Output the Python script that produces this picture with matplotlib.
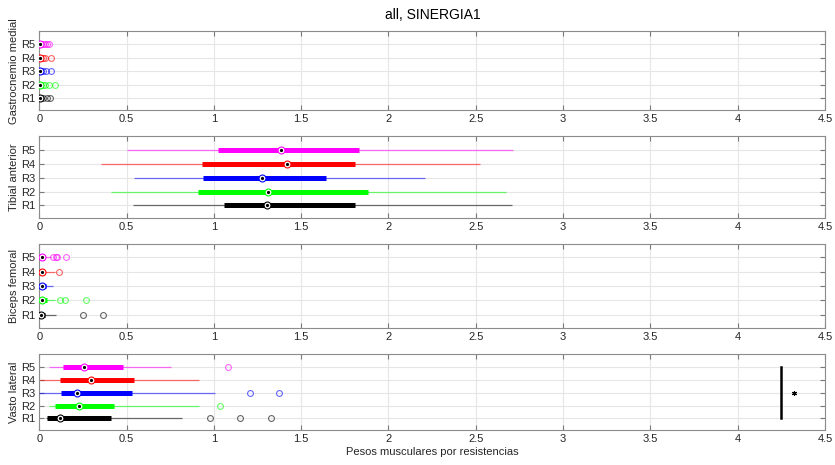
import numpy as np
import matplotlib
matplotlib.use('Agg')
from matplotlib import pyplot as plt

plt.rcParams['font.family'] = ['Liberation Sans', 'DejaVu Sans']

# categorias y colores
rows = ['R1', 'R2', 'R3', 'R4', 'R5']
colores = ['#000000', '#00ff00', '#0000ff', '#ff0000', '#ff00ff']
musculos = ['Gastrocnemio medial', 'Tibial anterior', 'Biceps femoral', 'Vasto lateral']

# estadisticos por musculo (orden R1..R5)
# Gastrocnemio medial
gm_wlo = [0.0, 0.0, 0.0, 0.0, 0.0]
gm_q1 = [0.002, 0.002, 0.002, 0.002, 0.002]
gm_med = [0.004, 0.004, 0.004, 0.004, 0.005]
gm_q3 = [0.008, 0.007, 0.007, 0.007, 0.007]
gm_whi = [0.012, 0.012, 0.012, 0.012, 0.012]
gm_out = [[0.023, 0.042, 0.06], [0.019, 0.033, 0.057, 0.09],
          [0.023, 0.037, 0.065], [0.019, 0.033, 0.067],
          [0.019, 0.033, 0.042, 0.057]]

# Tibial anterior
ta_wlo = [0.537, 0.41, 0.543, 0.353, 0.5]
ta_q1 = [1.056, 0.909, 0.938, 0.932, 1.023]
ta_med = [1.306, 1.311, 1.275, 1.42, 1.386]
ta_q3 = [1.809, 1.881, 1.643, 1.811, 1.834]
ta_whi = [2.707, 2.676, 2.211, 2.525, 2.714]
ta_out = [[], [], [], [], []]

# Biceps femoral
bf_wlo = [0.0, 0.0, 0.0, 0.0, 0.0]
bf_q1 = [0.004, 0.006, 0.008, 0.008, 0.006]
bf_med = [0.008, 0.017, 0.014, 0.017, 0.014]
bf_q3 = [0.033, 0.042, 0.04, 0.02, 0.018]
bf_whi = [0.095, 0.09, 0.08, 0.09, 0.07]
bf_out = [[0.248, 0.366], [0.118, 0.147, 0.267], [], [0.114],
          [0.077, 0.095, 0.1, 0.153]]

# Vasto lateral
vl_wlo = [0.038, 0.057, 0.0, 0.004, 0.057]
vl_q1 = [0.042, 0.09, 0.124, 0.118, 0.134]
vl_med = [0.118, 0.229, 0.217, 0.296, 0.257]
vl_q3 = [0.412, 0.429, 0.534, 0.541, 0.48]
vl_whi = [0.82, 0.915, 1.004, 0.915, 0.757]
vl_out = [[0.976, 1.151, 1.329], [1.033], [1.205, 1.372], [], [1.083]]

datos = [
    (gm_wlo, gm_q1, gm_med, gm_q3, gm_whi, gm_out),
    (ta_wlo, ta_q1, ta_med, ta_q3, ta_whi, ta_out),
    (bf_wlo, bf_q1, bf_med, bf_q3, bf_whi, bf_out),
    (vl_wlo, vl_q1, vl_med, vl_q3, vl_whi, vl_out),
]

# significancia (vasto lateral)
sig_x = 4.25
sig_star_x = 4.32

xticks = [0, 0.5, 1, 1.5, 2, 2.5, 3, 3.5, 4, 4.5]
xticklabels = ['0', '0.5', '1', '1.5', '2', '2.5', '3', '3.5', '4', '4.5']

# posiciones de ejes [left, bottom, width, height] en fraccion de figura
posiciones = [
    [0.047, 0.763, 0.941, 0.170],
    [0.047, 0.531, 0.941, 0.176],
    [0.047, 0.295, 0.941, 0.181],
    [0.047, 0.075, 0.941, 0.163],
]

fig = plt.figure(figsize=(8.35, 4.65), dpi=100)
gris_txt = '#262626'
ejes = []
for k, (wlo, q1, med, q3, whi, out) in enumerate(datos):
    ax = fig.add_axes(posiciones[k])
    ejes.append(ax)
    for i in range(5):
        y = i + 1
        c = colores[i]
        # bigotes
        ax.plot([wlo[i], whi[i]], [y, y], color=c, lw=0.9, alpha=0.55,
                solid_capstyle='butt', zorder=3)
        # caja
        ax.plot([q1[i], q3[i]], [y, y], color=c, lw=3.6,
                solid_capstyle='butt', zorder=4)
        # outliers
        if len(out[i]) > 0:
            ax.plot(out[i], [y] * len(out[i]), 'o', mfc='none', mec=c,
                    mew=0.8, ms=4.2, alpha=0.6, zorder=5)
        # mediana
        ax.plot(med[i], y, 'o', mfc='white', mec=c, mew=0.8, ms=5,
                alpha=1, zorder=6)
        ax.plot(med[i], y, 'o', color='black', ms=1.3, zorder=7)

    ax.set_xlim(0, 4.5)
    ax.set_ylim(0.1, 5.95)
    ax.set_yticks([1, 2, 3, 4, 5])
    ax.set_yticklabels(rows)
    ax.set_xticks(xticks)
    ax.set_xticklabels(xticklabels)
    ax.set_ylabel(musculos[k], fontsize=8, color=gris_txt, labelpad=1)
    ax.grid(True, color='#e6e6e6', lw=0.8)
    ax.set_axisbelow(True)
    ax.tick_params(direction='in', top=True, right=True, length=3.5,
                   width=0.8, colors='#7a7a7a', labelcolor=gris_txt,
                   labelsize=8, pad=3)
    for s in ax.spines.values():
        s.set_color('#8c8c8c')
        s.set_linewidth(0.8)

# linea y asterisco de significancia en vasto lateral
ax4 = ejes[3]
ax4.plot([sig_x, sig_x], [1, 5], color='black', lw=1.8, zorder=6)
ax4.plot(sig_star_x, 3, marker=(6, 2, 0), color='black', ms=3.5, mew=0.8)
ax4.set_xlabel('Pesos musculares por resistencias', fontsize=8,
               color=gris_txt, labelpad=2)

fig.text(0.518, 0.968, 'all, SINERGIA1', ha='center', va='center',
         fontsize=10, color='black')

fig.savefig('out.png', dpi=100)
